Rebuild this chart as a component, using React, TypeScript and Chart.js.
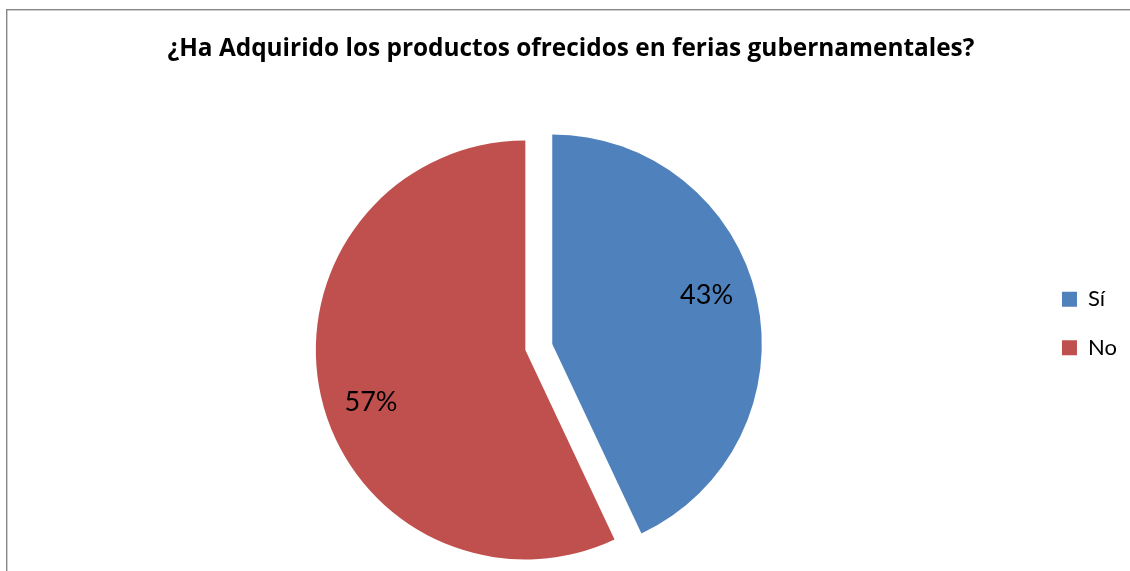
import React, { useEffect, useRef } from "react";
import { Chart, registerables } from "chart.js";

Chart.register(...registerables);

const chartTitle = "¿Ha Adquirido los productos ofrecidos en ferias gubernamentales?";
const categories = ["Sí", "No"];
const values = [43, 57];
const sliceColors = ["#4F81BD", "#C0504D"];
const explodeDistance = [27.6, 0];

const CANVAS_W = 1130;
const CANVAS_H = 647;

export default function App() {
  const ref = useRef<HTMLCanvasElement>(null);

  useEffect(() => {
    const canvas = ref.current;
    if (!canvas) return;
    Chart.defaults.font.family = "Lato";

    const framePlugin = {
      id: "frame",
      beforeDraw(chart: any) {
        const ctx = chart.ctx;
        ctx.save();
        ctx.fillStyle = "#ffffff";
        ctx.fillRect(0, 0, chart.width, chart.height);
        ctx.fillStyle = "#868686";
        ctx.fillRect(6, 9, 1.4, chart.height);
        ctx.fillRect(6, 9, chart.width, 1.4);
        ctx.restore();
      },
    };

    const explodePlugin = {
      id: "explode",
      afterDatasetsUpdate(chart: any) {
        const meta = chart.getDatasetMeta(0);
        meta.data.forEach((arc: any, i: number) => {
          const d = explodeDistance[i] || 0;
          if (!d) return;
          const mid = (arc.startAngle + arc.endAngle) / 2;
          arc.x += Math.cos(mid) * d;
          arc.y += Math.sin(mid) * d;
        });
      },
    };

    const labelPlugin = {
      id: "pctLabels",
      afterDatasetsDraw(chart: any) {
        const ctx = chart.ctx;
        const meta = chart.getDatasetMeta(0);
        const total = values.reduce((a, b) => a + b, 0);
        ctx.save();
        ctx.font = "27px Lato";
        ctx.fillStyle = "#000000";
        ctx.textAlign = "center";
        ctx.textBaseline = "middle";
        meta.data.forEach((arc: any, i: number) => {
          const mid = (arc.startAngle + arc.endAngle) / 2 - (5.5 * Math.PI) / 180;
          const r = arc.outerRadius * 0.775;
          const txt = Math.round((values[i] / total) * 100) + "%";
          ctx.fillText(txt, arc.x + Math.cos(mid) * r, arc.y + Math.sin(mid) * r + 1.5);
        });
        ctx.restore();
      },
    };

    const chart = new Chart(canvas, {
      type: "pie",
      data: {
        labels: categories,
        datasets: [
          {
            data: values,
            backgroundColor: sliceColors,
            borderWidth: 0,
            radius: 209.5,
          } as any,
        ],
      },
      options: {
        responsive: false,
        animation: false,
        events: [],
        layout: { padding: { left: 15, right: 3.1, top: 0, bottom: 0 } },
        plugins: {
          title: {
            display: true,
            text: chartTitle,
            color: "#000000",
            font: { family: "Open Sans", size: 24.4, weight: "bold", lineHeight: 1.2 },
            padding: { top: 34.7, bottom: -11 },
          },
          legend: {
            position: "right",
            labels: {
              boxWidth: 15,
              boxHeight: 15,
              padding: 26.3,
              color: "#000000",
              font: { family: "Lato", size: 22 },
            },
          },
          tooltip: { enabled: false },
        },
      } as any,
      plugins: [framePlugin, explodePlugin, labelPlugin],
    });

    return () => chart.destroy();
  }, []);

  return (
    <div
      style={{
        position: "absolute",
        left: 0,
        top: 0,
        width: CANVAS_W,
        height: 571,
        overflow: "hidden",
        background: "#ffffff",
      }}
    >
      <canvas ref={ref} width={CANVAS_W} height={CANVAS_H} style={{ display: "block" }} />
    </div>
  );
}
